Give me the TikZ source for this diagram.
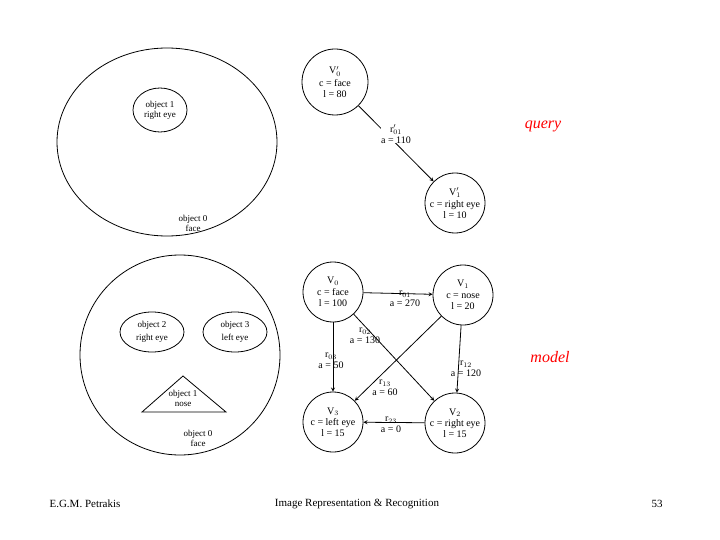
\documentclass[tikz,border=0pt]{standalone}
\usepackage{fontspec}
\setmainfont{Liberation Serif}
\begin{document}
\begin{tikzpicture}[x=1pt,y=-1pt,line width=0.8pt,
  sm/.style={font=\fontsize{9}{10}\selectfont,align=center,inner sep=0pt},
  vx/.style={draw,circle,minimum size=#1,inner sep=0pt,font=\fontsize{10}{11}\selectfont,align=center},
  lab/.style={font=\fontsize{10}{11}\selectfont,align=center,inner sep=0pt},
  arr/.style={->,>=stealth},
  red/.style={text=red,font=\itshape\fontsize{16}{18}\selectfont},
  foot/.style={font=\fontsize{11}{13}\selectfont}]
\useasboundingbox (0,0) rectangle (720,540);
% top face
\draw (167,142) ellipse [x radius=110,y radius=94];
\draw (160,110) ellipse [x radius=27,y radius=22];
\node[sm] (o1) at (160,110) {object 1\\right eye};
\node[sm] (o0) at (193,223) {object 0\\face};
% query graph
\node[vx=66pt] (q0) at (335,82) {V$'_0$\\[2pt]c = face\\l = 80};
\node[vx=60pt] (q1) at (455,203) {V$'_1$\\[1pt]c = right eye\\l = 10};
\draw[arr] (q0) -- (q1);
\node[lab,fill=white] (lq) at (396,134) {r$'_{01}$\\a = 110};
\node[red] (query) at (543,126) {query};
% bottom face
\draw (180,355) ellipse [x radius=100,y radius=100];
\draw (152,332) ellipse [x radius=32,y radius=20];
\draw (235,332) ellipse [x radius=32,y radius=20];
\node[sm] (o2) at (152,332) {object 2\\[3pt]right eye};
\node[sm] (o3) at (235,332) {object 3\\[3pt]left eye};
\draw (183,376) -- (226,412) -- (142,412) -- cycle;
\node[sm] (on) at (183,398) {object 1\\nose};
\node[sm] (of) at (198,438) {object 0\\face};
% model graph
\node[vx=60pt] (v0) at (333,292) {V$_0$\\[1pt]c = face\\l = 100};
\node[vx=60pt] (v1) at (463,295) {V$_1$\\[1pt]c = nose\\l = 20};
\node[vx=60pt] (v3) at (333,422) {V$_3$\\c = left eye\\l = 15};
\node[vx=60pt] (v2) at (455,423) {V$_2$\\c = right eye\\l = 15};
\draw[arr] (v0) -- (v1);
\draw[arr] (v0) -- (v3);
\draw[arr] (v0) -- (v2);
\draw[arr] (v1) -- (v3);
\draw[arr] (v1) -- (v2);
\draw[arr] (v2) -- (v3);
\begin{scope}[every node/.style={lab}]
\node (l01) at (405,299) {r$_{01}$\\a = 270};
\node (l02) at (365,336) {r$_{02}$\\a = 130};
\node (l03) at (331,361) {r$_{03}$\\a = 50};
\node (l13) at (385,388) {r$_{13}$\\a = 60};
\node (l12) at (466,369) {r$_{12}$\\a = 120};
\node (l23) at (391,425) {r$_{23}$\\a = 0};
\end{scope}
\node[red] (model) at (550,357) {model};
% footer
\node[foot] (f1) at (85,504) {E.G.M. Petrakis};
\node[foot] (f2) at (357,504) {Image Representation \& Recognition};
\node[foot] (f3) at (657,504) {53};
\end{tikzpicture}
\end{document}
